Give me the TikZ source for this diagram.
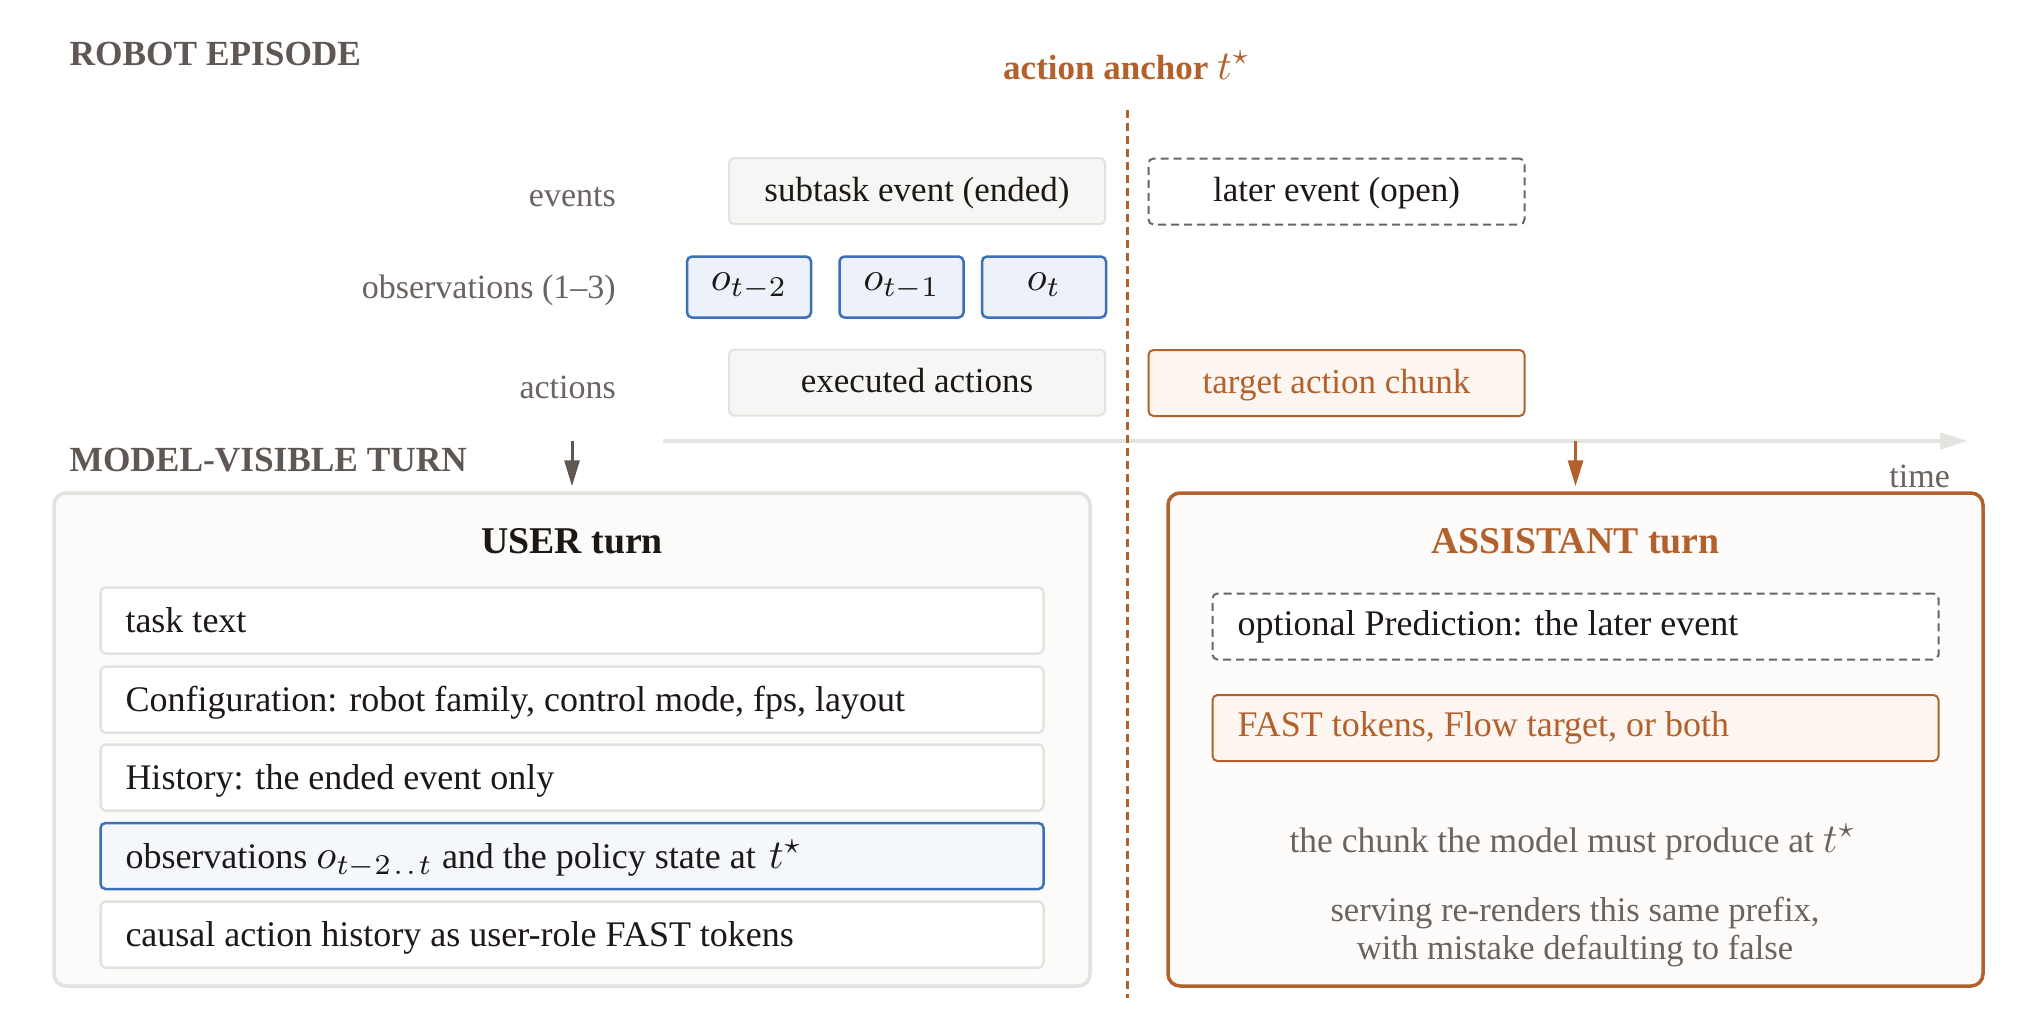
\documentclass[tikz,border=0pt]{standalone}
\usepackage{fix-cm}
\usepackage{graphicx}
\usepackage{fontspec}
\setmainfont{Liberation Serif}
\usetikzlibrary{arrows.meta}
\definecolor{ink}{HTML}{1D1815}
\definecolor{labgray}{HTML}{6A6360}
\definecolor{hdrgray}{HTML}{5E5753}
\definecolor{orng}{HTML}{B2612C}
\definecolor{orngfill}{HTML}{FDF6F0}
\definecolor{bluel}{HTML}{3D6FB6}
\definecolor{bluefill}{HTML}{EDF2FA}
\definecolor{bluefilltwo}{HTML}{F4F7FC}
\definecolor{boxline}{HTML}{E2E2DE}
\definecolor{boxfill}{HTML}{F6F6F5}
\definecolor{userfill}{HTML}{FBFBFA}
\definecolor{asstfill}{HTML}{FDFCFB}
\definecolor{dashgray}{HTML}{6B6664}
\definecolor{axisgray}{HTML}{E3E3DF}
\newcommand\mbig[1]{\scalebox{4.1}{\fontsize{10}{12}\selectfont$#1$}}
\begin{document}
\begin{tikzpicture}[x=1pt,y=-1pt,
  txt/.style={font=\fontsize{34}{38}\selectfont},
  txtb/.style={font=\fontsize{35}{38}\selectfont},
  txtr/.style={font=\fontsize{36}{40}\selectfont},
  lab/.style={txt, text=labgray, anchor=base east, inner sep=0pt},
  hdr/.style={font=\fontsize{35.3}{40}\selectfont\bfseries, text=hdrgray, anchor=base west, inner sep=0pt},
  gbox/.style={draw=boxline, fill=boxfill, line width=2pt, rounded corners=5pt, txtb, text=ink,
    inner sep=0pt, text height=28pt, text depth=8pt},
  dbox/.style={draw=dashgray, fill=white, line width=2pt, dash pattern=on 8pt off 5pt, rounded corners=5pt,
    txtb, text=ink, inner sep=0pt, text height=28pt, text depth=8pt},
  obox/.style={draw=orng, fill=orngfill, line width=2pt, rounded corners=5pt, txtb, text=orng,
    inner sep=0pt, text height=28pt, text depth=8pt},
  obsbox/.style={draw=bluel, fill=bluefill, line width=2.5pt, rounded corners=5pt, text=ink,
    inner sep=0pt, minimum width=124pt, minimum height=61pt, text height=10pt, text depth=4pt},
  rowbox/.style={draw=boxline, fill=white, line width=2.5pt, rounded corners=5pt, txtr, text=ink,
    inner sep=0pt, minimum width=943pt, minimum height=66pt, text height=32pt, text depth=8pt},
  bluerow/.style={rowbox, draw=bluel, fill=bluefilltwo},
  turnttl/.style={font=\fontsize{37.8}{40}\selectfont\bfseries, anchor=base, inner sep=0pt},
  gtxt/.style={txt, text=labgray, anchor=base, inner sep=0pt},
  darr/.style={line width=3pt, -{Triangle[length=26pt,width=15pt]}, shorten >=5pt},
]
\useasboundingbox (0,0) rectangle (2018,1012);
\fill[white] (0,0) rectangle (2018,1012);

% headers
\node[hdr] (hepi) at (69.5,65) {ROBOT EPISODE};
\node[hdr] (hmod) at (69.5,471) {MODEL-VISIBLE TURN};

% anchor line
\node[font=\fontsize{35}{40}\selectfont\bfseries, text=orng, anchor=base, inner sep=0pt] (anch) at (1127,79)
  {action anchor \mbig{t^{\star}}};
\coordinate (atop) at (1127,110);
\coordinate (abot) at (1127,998);

% time axis
\coordinate (tax0) at (663,441);
\coordinate (tax1) at (1968,441);
\draw[axisgray, line width=4pt, -{Triangle[length=28pt,width=16pt]}] (tax0) -- (tax1);
\node[txt, text=labgray, anchor=base east, inner sep=0pt] (time) at (1950,487) {time};

% row labels
\node[lab] (lev) at (616,206) {events};
\node[lab] (lobs) at (616,298) {observations (1--3)};
\node[lab] (lact) at (616,398) {actions};

% episode boxes
\node[gbox, minimum width=376pt, minimum height=66pt] (ev1) at (917,191) {subtask event (ended)};
\node[dbox, minimum width=376pt, minimum height=66pt] (ev2) at (1336.5,191.5) {later event (open)};
\node[obsbox] (o1) at (749,287) {\mbig{o_{t-2}}};
\node[obsbox] (o2) at (901.5,287) {\mbig{o_{t-1}}};
\node[obsbox] (o3) at (1044,287) {\mbig{o_{t}}};
\node[gbox, minimum width=376pt, minimum height=66pt] (exe) at (917,382.5) {executed actions};
\node[obox, minimum width=376pt, minimum height=66pt] (tgt) at (1336.5,383) {target action chunk};

% anchor dashed line (drawn over the axis)
\draw[orng, line width=3pt, dash pattern=on 8pt off 5pt] (atop) -- (abot);

% USER turn
\node[draw=boxline, fill=userfill, line width=3.5pt, rounded corners=12pt,
  minimum width=1036pt, minimum height=493pt, inner sep=0pt] (user) at (572,739.5) {};
\node[turnttl, text=ink] (uttl) at (572,553) {USER turn};
\node[rowbox] (r1) at (572,620.5) {\makebox[893pt][l]{task text}};
\node[rowbox] (r2) at (572,699.5) {\makebox[893pt][l]{Configuration: robot family, control mode, fps, layout}};
\node[rowbox] (r3) at (572,777.5) {\makebox[893pt][l]{History: the ended event only}};
\node[bluerow] (r4) at (572,856) {\makebox[893pt][l]{observations \mbig{o_{t-2\mskip1.5mu.\mskip1.5mu.\mskip1.5mu t}} and the policy state at \hspace{4pt}\mbig{t^{\star}}}};
\node[rowbox] (r5) at (572,934.5) {\makebox[893pt][l]{causal action history as user-role FAST tokens}};

% ASSISTANT turn
\node[draw=orng, fill=asstfill, line width=3.5pt, rounded corners=12pt,
  minimum width=815pt, minimum height=493pt, inner sep=0pt] (asst) at (1575.5,739.5) {};
\node[turnttl, text=orng] (attl) at (1575.5,553) {ASSISTANT turn};
\node[dbox, txtr, minimum width=726pt, minimum height=66pt, text height=25pt, text depth=8pt] (pred) at (1575.5,626.5)
  {\makebox[676pt][l]{optional Prediction: the later event}};
\node[obox, txtr, minimum width=726pt, minimum height=66pt, text height=25pt, text depth=8pt] (fast) at (1575.5,728)
  {\makebox[676pt][l]{FAST tokens, Flow target, or both}};
\node[gtxt, font=\fontsize{35.5}{40}\selectfont] (chunk) at (1573,852) {the chunk the model must produce at \mbig{t^{\star}}};
\node[gtxt, font=\fontsize{34.6}{40}\selectfont] (serv1) at (1575,921) {serving re-renders this same prefix,};
\node[gtxt, font=\fontsize{34.6}{40}\selectfont] (serv2) at (1575,959) {with mistake defaulting to false};

% arrows from timeline to turns
\coordinate (uin) at (572,441);
\coordinate (ain) at (1575.5,441);
\draw[darr, hdrgray] (uin) -- (user.north);
\draw[darr, orng] (ain) -- (asst.north);
\end{tikzpicture}
\end{document}
